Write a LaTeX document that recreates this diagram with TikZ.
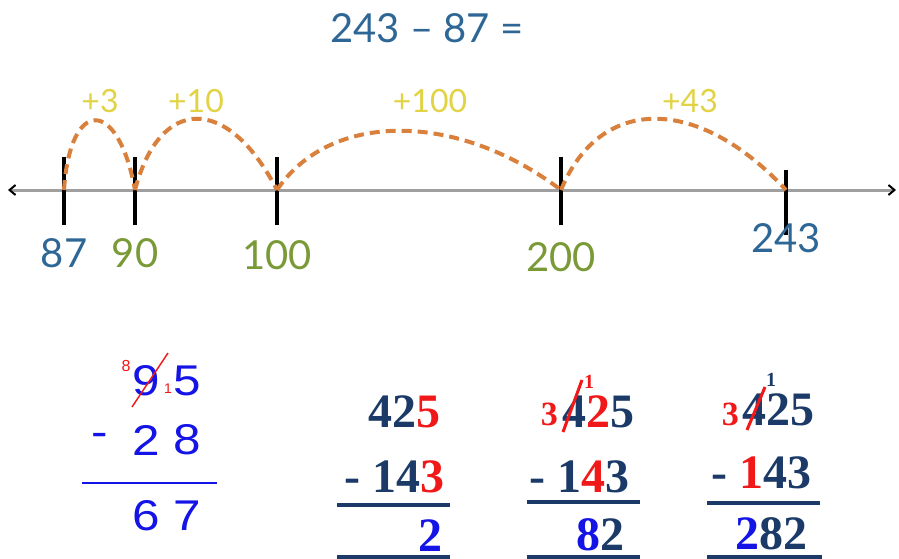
\documentclass[tikz,border=0pt]{standalone}
\usepackage{fontspec}
\setmainfont{Liberation Serif}
\newfontfamily\arialf{Liberation Sans}
\newfontfamily\handf{Lato}
\usetikzlibrary{arrows.meta}
\definecolor{nlblue}{HTML}{2E6796}
\definecolor{nlgreen}{HTML}{7A9A38}
\definecolor{nlyellow}{HTML}{E2D345}
\definecolor{nlorange}{HTML}{D9803C}
\definecolor{navy}{HTML}{1B3A68}
\definecolor{pblue}{HTML}{1414E6}
\definecolor{pred}{HTML}{F01818}
\newcommand\widedig[1]{\scalebox{1.15}[1]{#1}}
\tikzset{
  hand/.style={font=\handf\fontsize{40}{40}\selectfont, inner sep=0pt},
  jumplbl/.style={font=\handf\fontsize{32}{32}\selectfont, inner sep=0pt, text=nlyellow},
  tickline/.style={line width=4pt, black},
  jump/.style={line width=4pt, nlorange, dash pattern=on 10pt off 6pt},
  ariald/.style={font=\arialf\fontsize{43}{43}\selectfont, text=pblue, inner sep=0pt},
  timesrow/.style={font=\bfseries\fontsize{48}{48}\selectfont, text=navy, inner sep=0pt, anchor=east},
  smallred/.style={font=\bfseries\fontsize{34}{34}\selectfont, text=pred, inner sep=0pt, anchor=east},
  rule/.style={line width=3.5pt, navy},
}
\begin{document}
\begin{tikzpicture}[x=1pt,y=-1pt]
\useasboundingbox[fill=white] (0,0) rectangle (899,559);
% title
\node[hand, text=nlblue] (title) at (427,28) {243 – 87 =};
% number line
\coordinate (L) at (8,190);
\coordinate (R) at (896,190);
\draw[line width=3pt, gray!75, {Straight Barb[length=6pt,width=10pt,line width=2pt,black]}-{Straight Barb[length=6pt,width=10pt,line width=2pt,black]}] (L) -- (R);
\coordinate (p87) at (64,190);
\coordinate (p90) at (135,190);
\coordinate (p100) at (277,190);
\coordinate (p200) at (561,190);
\coordinate (p243) at (786,190);
\foreach \p in {p87,p90,p100,p200} \draw[tickline] ([yshift=-35pt]\p) -- ([yshift=33pt]\p);
\draw[tickline] ([yshift=-45pt]p243) -- ([yshift=20pt]p243);
% jumps
\draw[jump] (p87) .. controls (70,97) and (118,97) .. (p90);
\draw[jump] (p90) .. controls (160,95) and (228,95) .. (p100);
\draw[jump] (p100) .. controls (330,111) and (457,111) .. (p200);
\draw[jump] (p200) .. controls (600,95) and (698,95) .. (p243);
% jump labels
\node[jumplbl] (j3) at (100,101) {+3};
\node[jumplbl] (j10) at (196,101) {+10};
\node[jumplbl] (j100) at (430,101) {+100};
\node[jumplbl] (j43) at (690,101) {+43};
% number labels
\node[hand, text=nlblue] (n87) at (64,253) {87};
\node[hand, text=nlgreen] (n90) at (135,253) {90};
\node[hand, text=nlgreen] (n100) at (277,255) {100};
\node[hand, text=nlgreen] (n200) at (561,257) {200};
\node[hand, text=nlblue] (n243) at (786,238) {243};
% problem 1
\node[ariald] (a9) at (146,381) {\widedig{9}};
\node[ariald] (a5) at (187,381) {\widedig{5}};
\node[ariald] (am) at (100,440) {\widedig{-}};
\node[ariald] (a2) at (146,440) {\widedig{2}};
\node[ariald] (a8) at (187,440) {\widedig{8}};
\draw[line width=2.5pt, pblue] (82,483) -- (217,483);
\node[ariald] (a6) at (146,516) {\widedig{6}};
\node[ariald] (a7) at (187,516) {\widedig{7}};
\draw[line width=1.5pt, pred] (132,407) -- (168,353);
\node[font=\arialf\fontsize{16}{16}\selectfont, text=pred, inner sep=0pt] (r8) at (126,366) {8};
\node[font=\arialf\fontsize{14}{14}\selectfont, text=pred, inner sep=0pt] (r1) at (168,389) {1};
% problem 2
\node[timesrow] (b1) at (441,412) {42\textcolor{pred}{5}};
\node[timesrow] (b2) at (445,477) {- 14\textcolor{pred}{3}};
\draw[rule] (337,505) -- (450,505);
\node[timesrow, text=pblue] (b3) at (443,536) {2};
\draw[rule] (337,557) -- (450,557);
% problem 3
\node[smallred] (c3) at (558,414) {3};
\node[timesrow] (c1) at (635,412) {4\textcolor{pred}{2}5};
\draw[line width=3pt, pred] (563,432) -- (582,380);
\node[font=\bfseries\fontsize{20}{20}\selectfont, text=pred, inner sep=0pt] (c1s) at (589,382) {1};
\node[timesrow] (c2) at (630,477) {- 1\textcolor{pred}{4}3};
\draw[rule] (527,502) -- (640,502);
\node[timesrow] (c4) at (625,535) {\textcolor{pblue}{8}2};
\draw[rule] (527,557) -- (640,557);
% problem 4
\node[smallred] (d3) at (739,414) {3};
\node[timesrow] (d1) at (815,410) {425};
\draw[line width=3pt, pred] (747,430) -- (765,387);
\node[font=\bfseries\fontsize{20}{20}\selectfont, text=navy, inner sep=0pt] (d1s) at (771,380) {1};
\node[timesrow] (d2) at (812,473) {- \textcolor{pred}{1}43};
\draw[rule] (707,503) -- (820,503);
\node[timesrow] (d4) at (808,534) {\textcolor{pblue}{2}82};
\draw[rule] (707,557) -- (822,557);
\end{tikzpicture}
\end{document}
